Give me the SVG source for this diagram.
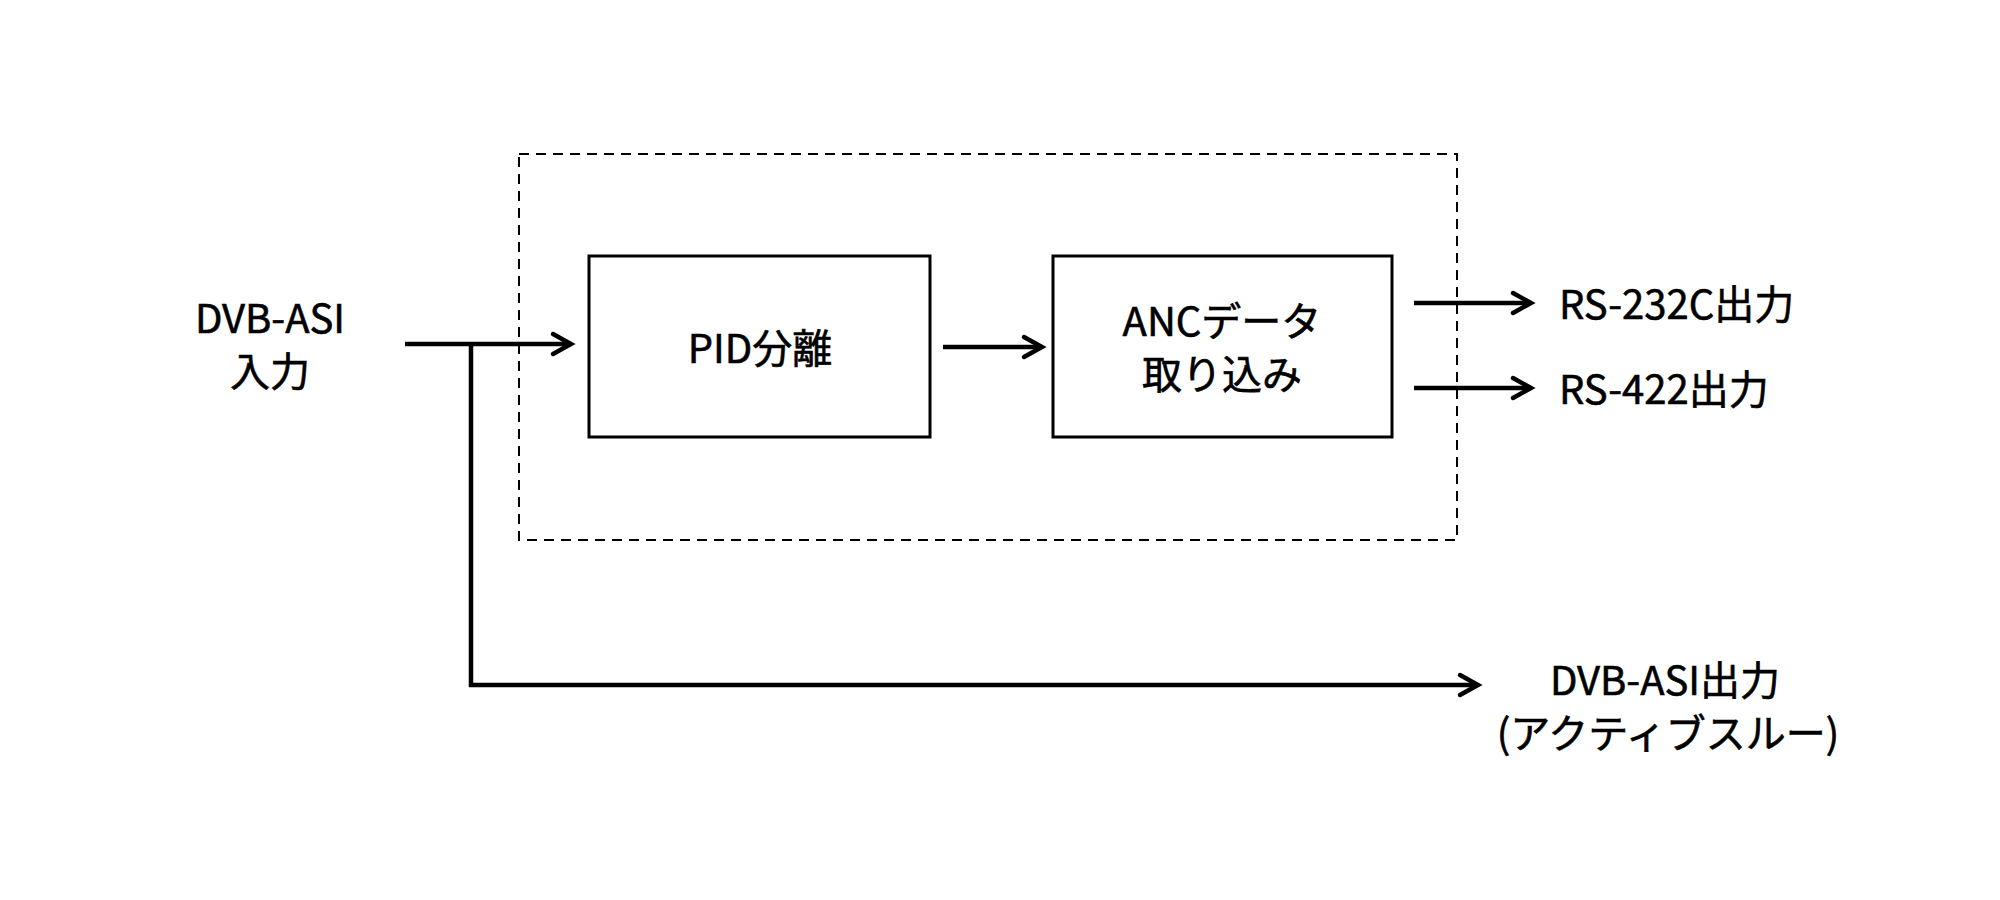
<svg xmlns="http://www.w3.org/2000/svg" width="2000" height="900" viewBox="0 0 2000 900">
<style>
.box{fill:#fff;stroke:#000;stroke-width:3}
.frame{fill:none;stroke:#000;stroke-width:2;stroke-dasharray:10 7}
.wire{fill:none;stroke:#000;stroke-width:4.5}
.t{font-family:"Noto Sans CJK JP","Noto Sans",sans-serif;font-size:40px;font-weight:400;fill:#000;text-anchor:middle;stroke:#000;stroke-width:0.6}
</style>
<defs>
<marker id="arr" markerUnits="userSpaceOnUse" markerWidth="30" markerHeight="30" refX="0" refY="0" viewBox="-22 -15 26 30" orient="auto">
<path d="M-18,-10 L0,0 L-18,10" fill="none" stroke="#000" stroke-width="4.5" stroke-linecap="round"/>
</marker>
</defs>
<rect class="frame" x="519" y="154" width="938" height="386"/>
<g id="pid">
<rect class="box" x="589" y="256" width="341" height="181"/>
<text class="t" x="760" y="363">PID分離</text>
</g>
<g id="anc">
<rect class="box" x="1053" y="256" width="339" height="181"/>
<text class="t" x="1222" y="336">ANCデータ</text>
<text class="t" x="1222" y="389">取り込み</text>
</g>
<g id="in">
<text class="t" x="270" y="333">DVB-ASI</text>
<text class="t" x="270" y="386">入力</text>
</g>
<g id="out232">
<text class="t" x="1559" y="319" style="text-anchor:start">RS-232C出力</text>
</g>
<g id="out422">
<text class="t" x="1559" y="404" style="text-anchor:start">RS-422出力</text>
</g>
<g id="outasi">
<text class="t" x="1665" y="695">DVB-ASI出力</text>
<text class="t" x="1668" y="748">(アクティブスルー)</text>
</g>
<g id="connectors">
<path class="wire" d="M405,344 H571" marker-end="url(#arr)"/>
<path class="wire" d="M471,344 V685 H1478" marker-end="url(#arr)"/>
<path class="wire" d="M943,347 H1042" marker-end="url(#arr)"/>
<path class="wire" d="M1414,303 H1531" marker-end="url(#arr)"/>
<path class="wire" d="M1414,388 H1531" marker-end="url(#arr)"/>
</g>
</svg>
